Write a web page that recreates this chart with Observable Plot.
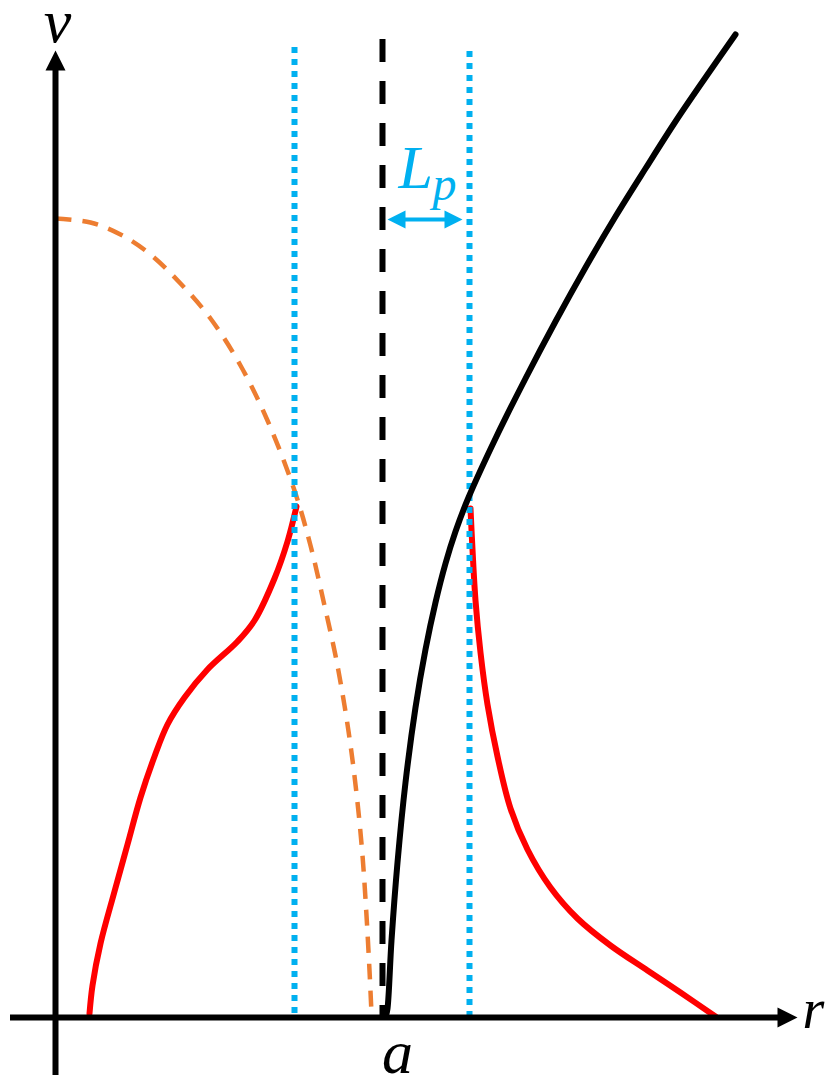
<!DOCTYPE html>
<html>
<head>
<meta charset="utf-8">
<script src="https://cdn.jsdelivr.net/npm/d3@7"></script>
<script src="https://cdn.jsdelivr.net/npm/@observablehq/plot@0.6"></script>
<style>
  html, body { margin: 0; padding: 0; background: #fff; }
  #chart svg { display: block; }
</style>
</head>
<body>
<div id="chart"></div>
<script>
// Horizontal coordinate r, vertical coordinate v (sketch units).
const aPos = 3.27;                 // r = a
const innerEdge = 2.39;            // left dotted boundary
const outerEdge = 4.14;            // right dotted boundary
const lpFrom = 3.32, lpTo = 4.07;  // extent of the L_p double arrow
const lpLevel = 7.98;              // height of the L_p arrow

const rAxisTip = 7.42, rAxisStart = -0.45;
const vAxisTip = 9.67, vAxisStart = -0.58;

// dashed profile (orange)
const profile = [
  [0.00, 7.99], [0.35, 7.95], [0.65, 7.83], [0.95, 7.63], [1.25, 7.34],
  [1.55, 6.99], [1.85, 6.52], [2.12, 5.97], [2.39, 5.27], [2.55, 4.72],
  [2.69, 4.12], [2.80, 3.62], [2.89, 3.12], [2.96, 2.65], [3.02, 2.15],
  [3.07, 1.62], [3.11, 1.02], [3.14, 0.47], [3.16, 0.04]
];

// inner red curve
const innerCurve = [
  [0.34, 0.04], [0.37, 0.32], [0.45, 0.74], [0.59, 1.26], [0.72, 1.73],
  [0.85, 2.20], [0.99, 2.61], [1.12, 2.93], [1.29, 3.20], [1.52, 3.48],
  [1.82, 3.76], [1.99, 3.97], [2.19, 4.39], [2.32, 4.76], [2.41, 5.11]
];

// outer red curve
const outerCurve = [
  [4.15, 5.09], [4.17, 4.68], [4.20, 4.17], [4.25, 3.65], [4.32, 3.13],
  [4.42, 2.61], [4.55, 2.09], [4.72, 1.68], [4.95, 1.30], [5.22, 0.99],
  [5.55, 0.72], [5.92, 0.47], [6.25, 0.25], [6.60, 0.01]
];

// solid black curve starting at r = a
const blackCurve = [
  [3.305, 0.02], [3.32, 0.09], [3.36, 0.77], [3.42, 1.55], [3.50, 2.35],
  [3.60, 3.10], [3.70, 3.68], [3.80, 4.15], [3.90, 4.54], [4.00, 4.86],
  [4.13, 5.20], [4.40, 5.79], [4.70, 6.39], [5.00, 6.96], [5.30, 7.50],
  [5.60, 8.01], [5.90, 8.49], [6.20, 8.96], [6.50, 9.40], [6.80, 9.83]
];

const blue = "#00B0F0";
const orange = "#ED7D31";
const red = "#FF0000";
const serif = "'Liberation Serif', 'Times New Roman', serif";

// Filled arrowhead: tip at the anchor point, pointing up before rotation.
const arrowHead = {
  draw(context, size) {
    const s = Math.sqrt(size / Math.PI);
    context.moveTo(0, 0);
    context.lineTo(-s / 2, s);
    context.lineTo(s / 2, s);
    context.closePath();
  }
};

const chart = Plot.plot({
  width: 829,
  height: 1075,
  margin: 0,
  x: { domain: [-0.55, 7.74], axis: null },
  y: { domain: [-0.58, 10.17], axis: null },
  marks: [
    // dashed profile
    Plot.line(profile, {
      curve: "catmull-rom", stroke: orange, strokeWidth: 4.5,
      strokeDasharray: "16,11", strokeLinecap: "butt"
    }),
    // red curves
    Plot.line(innerCurve, { curve: "catmull-rom", stroke: red, strokeWidth: 6 }),
    Plot.line(outerCurve, { curve: "catmull-rom", stroke: red, strokeWidth: 6 }),
    // dotted boundaries
    Plot.ruleX([innerEdge], { y1: 9.70, y2: 0.02, stroke: blue, strokeWidth: 6, strokeDasharray: "6,6", strokeLinecap: "butt" }),
    Plot.ruleX([outerEdge], { y1: 9.66, y2: 0.02, stroke: blue, strokeWidth: 6, strokeDasharray: "6,6", strokeLinecap: "butt" }),
    // r = a
    Plot.ruleX([aPos], { y1: 9.78, y2: 0.0, stroke: "black", strokeWidth: 6, strokeDasharray: "23,19", strokeLinecap: "butt" }),
    // solid black curve
    Plot.line(blackCurve, { curve: "catmull-rom", stroke: "black", strokeWidth: 6 }),

    // L_p double arrow
    Plot.ruleY([lpLevel], { x1: lpFrom + 0.1, x2: lpTo - 0.1, stroke: blue, strokeWidth: 4 }),
    Plot.dot([[lpFrom, lpLevel]], { symbol: arrowHead, r: 18, rotate: -90, fill: blue, stroke: "none" }),
    Plot.dot([[lpTo, lpLevel]], { symbol: arrowHead, r: 18, rotate: 90, fill: blue, stroke: "none" }),
    Plot.text(["L"], {
      x: lpFrom, y: lpLevel, dx: 11, dy: -32, textAnchor: "start", lineAnchor: "bottom",
      fontFamily: serif, fontStyle: "italic", fontSize: 62, fill: blue
    }),
    Plot.text(["p"], {
      x: lpFrom, y: lpLevel, dx: 45, dy: -20, textAnchor: "start", lineAnchor: "bottom",
      fontFamily: serif, fontStyle: "italic", fontSize: 48, fill: blue
    }),

    // axes
    Plot.ruleY([0], { x1: rAxisStart, x2: rAxisTip - 0.15, stroke: "black", strokeWidth: 6 }),
    Plot.ruleX([0], { y1: vAxisStart, y2: vAxisTip - 0.15, stroke: "black", strokeWidth: 6 }),
    Plot.dot([[rAxisTip, 0]], { symbol: arrowHead, r: 20, rotate: 90, fill: "black", stroke: "none" }),
    Plot.dot([[0, vAxisTip]], { symbol: arrowHead, r: 20, rotate: 0, fill: "black", stroke: "none" }),

    // axis labels
    Plot.text(["v"], {
      x: 0, y: vAxisTip, dx: 2, dy: -9, textAnchor: "middle", lineAnchor: "bottom",
      fontFamily: serif, fontStyle: "italic", fontSize: 62, fill: "black"
    }),
    Plot.text(["r"], {
      x: rAxisTip, y: 0, dx: 5, dy: 10, textAnchor: "start", lineAnchor: "bottom",
      fontFamily: serif, fontStyle: "italic", fontSize: 56, fill: "black"
    }),
    Plot.text(["a"], {
      x: aPos, y: 0, dx: 15, dy: 55, textAnchor: "middle", lineAnchor: "bottom",
      fontFamily: serif, fontStyle: "italic", fontSize: 62, fill: "black"
    })
  ]
});

document.getElementById("chart").appendChild(chart);
</script>
</body>
</html>
